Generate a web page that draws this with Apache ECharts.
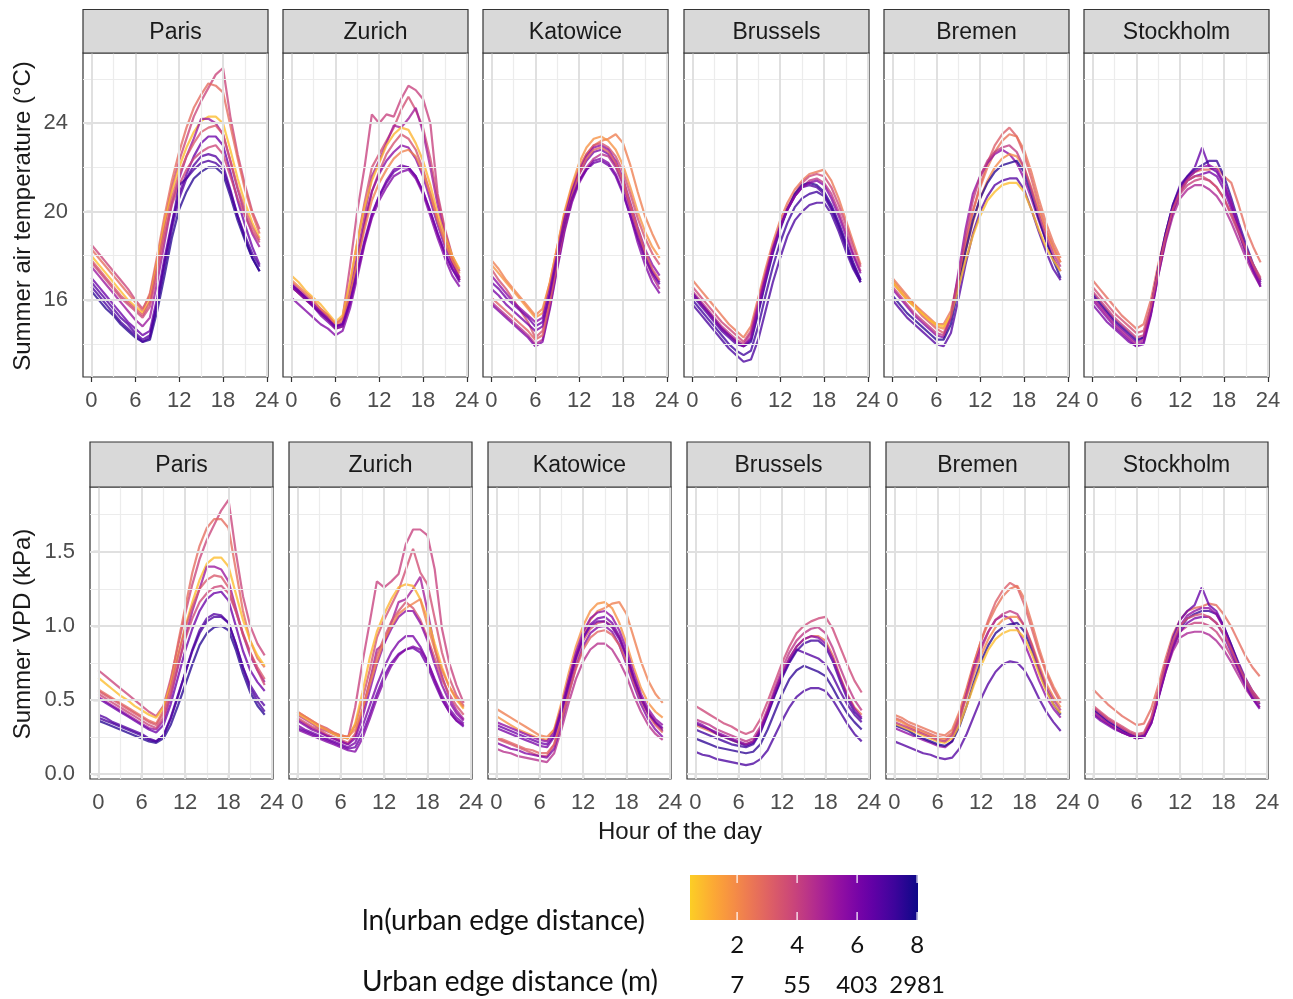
<!DOCTYPE html>
<html>
<head>
<meta charset="utf-8">
<script src="https://cdn.jsdelivr.net/npm/echarts@6/dist/echarts.min.js"></script>
<style>
  html, body { margin: 0; padding: 0; background: #fff; }
  #chart { width: 1293px; height: 999px; }
</style>
</head>
<body>
<div id="chart"></div>
<script>
// ---- data -------------------------------------------------------------
const hours = [0,1,2,3,4,5,6,7,8,9,10,11,12,13,14,15,16,17,18,19,20,21,22,23];
const cities = ['Paris', 'Zurich', 'Katowice', 'Brussels', 'Bremen', 'Stockholm'];

const xTicks = [0, 6, 12, 18, 24];
const xMinor = [3, 9, 15, 21];
const tempTicks = [16, 20, 24];
const tempMinor = [14, 18, 22, 26];
const vpdTicks = [0, 0.5, 1, 1.5];
const vpdMinor = [0.25, 0.75, 1.25, 1.75];

// colour bar: ln(urban edge distance) breaks and matching distances in metres
const colourLimits = [0.43, 8.03];
const legendBreaks = [2, 4, 6, 8];
const legendMetres = ['7', '55', '403', '2981'];

// ln(urban edge distance) of each logger, per city
const parisLn = [3.9, 2.8, 0.8, 5.2, 3.3, 6.3, 3.8, 6.8, 7.6, 7.0];
const zurichLn = [4.0, 3.6, 5.0, 1.0, 3.5, 5.6, 2.2, 6.0, 6.3, 5.8];
const katowiceLn = [2.3, 1.8, 3.5, 5.5, 6.0, 4.5, 5.8, 3.0, 6.2];
const brusselsLn = [2.5, 3.8, 4.3, 7.5, 6.8, 7.2, 7.0, 5.6];
const bremenLn = [3.2, 2.6, 5.5, 2.0, 7.6, 6.8, 0.8, 4.2];
const stockholmLn = [2.8, 6.4, 7.3, 5.5, 4.0, 4.8, 6.0, 3.6];

// mean summer air temperature (°C) by hour
const parisTemp = [
  [18.5,18.1,17.7,17.3,16.9,16.5,16.0,15.6,16.2,17.8,19.5,21.1,22.3,23.3,24.3,25.0,25.6,26.2,26.5,24.3,22.6,21.2,20.0,19.2],
  [18.3,17.9,17.5,17.1,16.7,16.3,15.9,15.5,16.3,18.0,19.8,21.4,22.7,23.8,24.7,25.3,25.8,25.7,25.4,23.9,22.4,21.0,19.9,19.0],
  [18.0,17.6,17.2,16.8,16.4,16.0,15.7,15.4,16.0,17.7,19.5,20.9,22.0,22.9,23.6,24.1,24.3,24.3,24.0,22.8,21.5,20.4,19.5,18.8],
  [17.5,17.1,16.7,16.3,15.9,15.5,15.1,14.8,15.2,16.8,18.6,20.4,21.5,22.5,23.3,24.2,24.2,24.0,23.5,22.3,21.0,19.9,19.0,18.4],
  [17.8,17.4,17.0,16.6,16.2,15.9,15.6,15.3,15.9,17.5,19.2,20.6,21.7,22.5,23.1,23.6,23.8,23.9,23.5,22.3,21.1,20.1,19.3,18.7],
  [17.0,16.6,16.2,15.8,15.4,15.0,14.7,14.4,14.6,16.1,17.9,19.5,20.8,21.7,22.5,23.1,23.4,23.4,23.0,21.8,20.5,19.4,18.4,17.6],
  [17.7,17.3,16.9,16.5,16.1,15.8,15.5,15.2,15.7,17.2,18.9,20.3,21.2,21.9,22.4,22.7,22.9,23.0,22.6,21.6,20.6,19.8,19.1,18.6],
  [16.8,16.4,16.0,15.6,15.2,14.9,14.5,14.2,14.4,15.8,17.5,19.2,20.6,21.5,22.1,22.5,22.6,22.5,22.1,21.0,19.8,18.8,17.9,17.3],
  [16.4,16.0,15.6,15.3,14.9,14.6,14.3,14.1,14.2,15.5,17.1,18.8,20.1,20.9,21.5,21.8,22.0,22.0,21.7,20.7,19.6,18.7,17.9,17.3],
  [16.6,16.2,15.8,15.4,15.0,14.7,14.4,14.1,14.3,15.9,17.7,19.4,21.2,21.5,21.9,22.2,22.3,22.2,21.9,20.9,19.8,18.9,18.1,17.5]
];
const zurichTemp = [
  [16.8,16.5,16.2,15.9,15.6,15.3,14.9,15.2,17.5,20.0,22.0,24.4,24.0,24.4,24.3,25.1,25.7,25.5,25.1,24.0,20.8,19.2,18.0,17.3],
  [16.7,16.4,16.1,15.8,15.5,15.2,14.8,15.0,16.6,18.6,20.4,22.0,22.6,23.2,23.8,24.6,25.2,24.6,23.8,22.4,20.6,19.1,17.9,17.0],
  [16.6,16.3,16.0,15.7,15.4,15.1,14.8,14.9,16.2,18.0,19.8,21.6,22.3,23.1,23.9,23.8,24.2,24.7,23.6,22.0,20.3,18.9,17.8,16.9],
  [17.1,16.8,16.4,16.1,15.8,15.4,15.0,15.3,16.8,18.6,20.2,21.4,22.2,23.0,23.5,23.8,23.7,23.1,22.3,21.2,19.9,18.9,18.0,17.4],
  [16.6,16.3,16.0,15.7,15.4,15.1,14.7,14.8,16.0,17.8,19.5,20.9,21.8,22.6,23.1,23.5,23.3,22.8,21.9,20.8,19.6,18.6,17.7,16.9],
  [16.7,16.4,16.1,15.8,15.5,15.2,14.8,14.9,16.1,17.8,19.4,20.9,21.7,22.3,22.7,23.0,22.9,22.4,21.6,20.5,19.4,18.4,17.6,17.0],
  [16.9,16.6,16.3,16.0,15.6,15.3,14.9,15.1,16.2,17.7,19.2,20.5,21.3,21.9,22.4,22.7,22.8,22.5,21.8,20.8,19.6,18.6,17.8,17.2],
  [16.6,16.3,16.0,15.7,15.3,15.0,14.7,14.8,15.8,17.2,18.6,19.8,20.7,21.4,21.9,22.1,22.0,21.6,20.9,20.0,19.0,18.1,17.4,16.8],
  [16.7,16.4,16.1,15.7,15.4,15.1,14.8,14.9,15.9,17.3,18.7,19.9,20.7,21.3,21.8,22.0,22.0,21.6,20.9,20.0,19.0,18.1,17.4,16.9],
  [16.1,15.8,15.5,15.2,14.9,14.7,14.4,14.6,15.6,17.0,18.5,19.7,20.5,21.1,21.6,21.8,21.9,21.5,20.8,19.8,18.8,17.9,17.1,16.6]
];
const katowiceTemp = [
  [17.8,17.4,16.9,16.5,16.1,15.7,15.3,15.6,16.8,18.4,19.9,21.1,22.0,22.6,23.0,23.2,23.3,23.5,23.1,22.1,20.9,19.8,19.0,18.3],
  [17.6,17.2,16.8,16.4,16.0,15.6,15.2,15.4,16.8,18.4,20.0,21.2,22.2,22.9,23.3,23.4,23.2,22.8,22.1,21.1,20.0,19.1,18.4,17.9],
  [17.4,16.9,16.5,16.0,15.5,15.0,14.3,14.6,16.0,17.8,19.6,20.9,21.9,22.6,23.0,23.1,22.9,22.5,21.8,20.8,19.7,18.8,18.1,17.6],
  [17.1,16.7,16.3,15.9,15.6,15.3,15.0,15.2,16.5,18.1,19.7,20.9,21.8,22.5,22.9,23.0,22.8,22.3,21.5,20.4,19.3,18.3,17.6,17.1],
  [16.5,16.2,15.8,15.5,15.2,14.9,14.6,14.8,16.2,17.9,19.5,20.8,21.7,22.3,22.7,22.8,22.6,22.1,21.3,20.2,19.1,18.1,17.3,16.8],
  [15.9,15.6,15.3,15.0,14.7,14.4,14.0,14.2,15.7,17.5,19.2,20.5,21.4,22.0,22.4,22.6,22.5,22.0,21.2,20.1,18.9,17.9,17.1,16.5],
  [15.8,15.5,15.2,14.9,14.6,14.3,13.9,14.1,15.6,17.4,19.1,20.4,21.3,21.9,22.3,22.4,22.2,21.7,20.9,19.8,18.6,17.6,16.8,16.3],
  [16.1,15.8,15.5,15.2,14.9,14.6,14.2,14.4,15.9,17.7,19.4,20.7,21.7,22.4,22.8,22.9,22.7,22.2,21.4,20.3,19.2,18.2,17.4,16.9],
  [16.8,16.5,16.1,15.8,15.5,15.2,14.8,15.0,16.3,17.9,19.4,20.6,21.4,21.9,22.2,22.3,22.1,21.6,20.8,19.8,18.8,17.9,17.2,16.7]
];
const brusselsTemp = [
  [16.9,16.5,16.1,15.7,15.3,14.9,14.6,14.3,14.8,16.1,17.4,18.6,19.6,20.4,21.0,21.4,21.7,21.8,21.9,21.4,20.6,19.6,18.6,17.6],
  [16.6,16.2,15.8,15.4,15.0,14.7,14.4,14.1,14.6,15.9,17.2,18.4,19.4,20.2,20.8,21.3,21.6,21.7,21.6,21.1,20.3,19.4,18.4,17.5],
  [16.4,16.0,15.6,15.2,14.8,14.5,14.2,14.0,14.5,15.8,17.1,18.3,19.3,20.1,20.7,21.1,21.4,21.5,21.3,20.8,20.0,19.1,18.1,17.3],
  [16.3,15.9,15.5,15.1,14.7,14.4,14.1,13.9,14.1,15.4,16.8,18.1,19.2,20.1,20.8,21.2,21.3,21.2,20.9,20.3,19.5,18.6,17.7,16.9],
  [16.2,15.8,15.4,15.0,14.6,14.3,14.0,13.9,14.2,15.5,16.9,18.2,19.3,20.1,20.7,21.1,21.2,21.1,20.8,20.2,19.4,18.5,17.6,16.9],
  [16.0,15.6,15.2,14.8,14.4,14.0,13.7,13.5,13.7,14.8,16.2,17.5,18.6,19.5,20.2,20.6,20.8,20.9,20.7,20.1,19.3,18.4,17.5,16.8],
  [15.8,15.4,15.0,14.6,14.2,13.8,13.5,13.2,13.3,14.2,15.5,16.8,17.9,18.9,19.6,20.0,20.3,20.4,20.4,19.9,19.1,18.2,17.4,16.8],
  [16.3,15.9,15.5,15.1,14.7,14.4,14.1,13.9,14.3,15.7,17.0,18.3,19.3,20.1,20.7,21.1,21.3,21.4,21.2,20.6,19.8,18.9,18.0,17.2]
];
const bremenTemp = [
  [16.8,16.4,16.0,15.7,15.3,15.0,14.7,14.5,15.2,16.8,18.5,20.0,21.2,22.2,23.0,23.5,23.8,23.4,22.6,21.5,20.3,19.2,18.4,17.7],
  [17.0,16.6,16.2,15.8,15.5,15.2,14.9,14.9,15.5,17.0,18.6,20.0,21.1,22.0,22.7,23.2,23.5,23.4,22.8,21.8,20.6,19.5,18.6,17.9],
  [16.5,16.1,15.7,15.3,15.0,14.7,14.4,14.3,15.2,17.2,19.2,20.8,21.6,22.2,22.6,22.8,22.6,22.2,21.5,20.6,19.6,18.7,17.9,17.3],
  [16.9,16.5,16.1,15.8,15.4,15.1,14.8,14.7,15.3,16.7,18.2,19.5,20.6,21.4,22.0,22.4,22.6,22.5,22.0,21.1,20.1,19.1,18.3,17.7],
  [16.2,15.8,15.4,15.1,14.8,14.5,14.2,14.2,14.9,16.5,18.2,19.6,20.6,21.3,21.8,22.1,22.2,22.3,21.8,20.8,19.7,18.7,17.8,17.0],
  [16.0,15.6,15.2,14.9,14.6,14.3,14.0,13.9,14.5,16.0,17.6,19.0,20.0,20.7,21.2,21.4,21.5,21.5,21.0,20.1,19.1,18.2,17.4,16.9],
  [16.8,16.4,16.0,15.7,15.4,15.1,14.9,14.8,15.3,16.5,17.8,18.9,19.8,20.5,20.9,21.2,21.3,21.3,20.9,20.1,19.2,18.4,17.8,17.3],
  [16.6,16.2,15.8,15.4,15.1,14.8,14.5,14.4,15.2,17.0,18.9,20.5,21.6,22.3,22.7,22.9,23.0,22.7,22.0,21.0,19.9,18.9,18.1,17.5]
];
const stockholmTemp = [
  [16.9,16.5,16.1,15.7,15.3,15.0,14.7,14.9,16.0,17.6,19.0,20.2,21.0,21.5,21.8,21.9,21.9,22.0,21.6,21.3,20.3,19.2,18.4,17.7],
  [16.2,15.8,15.4,15.0,14.7,14.4,14.1,14.3,15.6,17.4,19.0,20.3,21.2,21.6,22.0,22.9,22.0,21.8,21.2,20.3,19.3,18.3,17.5,16.8],
  [16.3,15.9,15.5,15.1,14.8,14.5,14.2,14.3,15.6,17.4,19.0,20.3,21.1,21.6,21.9,22.1,22.3,22.3,21.6,20.6,19.5,18.5,17.6,16.9],
  [16.0,15.6,15.2,14.8,14.5,14.2,13.9,14.1,15.4,17.2,18.8,20.1,21.0,21.5,21.8,22.0,22.1,21.9,21.3,20.4,19.3,18.3,17.4,16.7],
  [16.4,16.0,15.6,15.2,14.9,14.6,14.3,14.4,15.6,17.3,18.8,20.0,20.8,21.2,21.4,21.5,21.4,21.1,20.6,19.8,19.0,18.2,17.5,16.9],
  [16.1,15.7,15.3,14.9,14.6,14.3,14.0,14.2,15.4,17.1,18.6,19.8,20.6,21.0,21.2,21.2,21.0,20.7,20.2,19.5,18.7,17.9,17.2,16.6],
  [15.8,15.4,15.0,14.7,14.4,14.1,13.9,14.0,15.3,17.1,18.7,20.0,20.9,21.4,21.6,21.7,21.8,21.6,21.0,20.1,19.1,18.1,17.3,16.6],
  [16.6,16.2,15.8,15.4,15.1,14.8,14.5,14.6,15.7,17.3,18.8,20.1,20.9,21.4,21.6,21.6,21.4,21.1,20.6,19.9,19.1,18.3,17.6,17.0]
];

// mean summer vapour pressure deficit (kPa) by hour
const parisVpd = [
  [0.70,0.66,0.62,0.58,0.54,0.50,0.46,0.42,0.39,0.46,0.64,0.86,1.08,1.28,1.45,1.58,1.68,1.78,1.85,1.50,1.20,1.00,0.88,0.80],
  [0.57,0.54,0.51,0.48,0.45,0.42,0.39,0.36,0.34,0.43,0.62,0.88,1.12,1.36,1.54,1.66,1.72,1.72,1.66,1.38,1.10,0.90,0.78,0.72],
  [0.65,0.61,0.57,0.53,0.50,0.46,0.43,0.40,0.38,0.45,0.60,0.80,0.99,1.16,1.31,1.42,1.46,1.46,1.40,1.22,1.04,0.90,0.80,0.73],
  [0.52,0.49,0.46,0.43,0.40,0.37,0.34,0.31,0.30,0.36,0.52,0.72,0.92,1.10,1.25,1.40,1.40,1.38,1.30,1.12,0.94,0.80,0.70,0.62],
  [0.56,0.53,0.50,0.47,0.44,0.41,0.38,0.35,0.33,0.41,0.58,0.79,0.98,1.13,1.25,1.31,1.34,1.33,1.26,1.10,0.94,0.82,0.72,0.64],
  [0.51,0.48,0.45,0.42,0.39,0.36,0.33,0.30,0.28,0.33,0.47,0.65,0.83,0.98,1.10,1.18,1.22,1.23,1.17,1.00,0.83,0.70,0.62,0.56],
  [0.54,0.51,0.48,0.45,0.42,0.39,0.36,0.33,0.31,0.38,0.54,0.73,0.91,1.05,1.16,1.22,1.26,1.27,1.22,1.10,0.95,0.82,0.70,0.60],
  [0.40,0.38,0.35,0.33,0.31,0.29,0.27,0.24,0.22,0.26,0.38,0.53,0.68,0.84,0.97,1.05,1.08,1.07,1.02,0.88,0.72,0.60,0.52,0.46],
  [0.36,0.34,0.32,0.30,0.28,0.26,0.24,0.22,0.21,0.24,0.33,0.46,0.60,0.74,0.87,0.95,0.99,1.00,0.97,0.84,0.68,0.55,0.46,0.40],
  [0.38,0.36,0.34,0.32,0.30,0.28,0.26,0.23,0.22,0.26,0.37,0.52,0.68,0.83,0.95,1.03,1.06,1.06,1.02,0.88,0.72,0.58,0.49,0.42]
];
const zurichVpd = [
  [0.40,0.37,0.34,0.31,0.29,0.27,0.25,0.24,0.45,0.75,1.02,1.30,1.26,1.30,1.35,1.55,1.65,1.65,1.61,1.38,0.98,0.75,0.60,0.48],
  [0.42,0.39,0.36,0.33,0.31,0.28,0.26,0.25,0.33,0.50,0.70,0.92,1.04,1.14,1.24,1.38,1.52,1.36,1.28,1.05,0.82,0.65,0.53,0.46],
  [0.37,0.34,0.31,0.29,0.26,0.24,0.22,0.20,0.26,0.42,0.62,0.84,0.88,1.02,1.16,1.18,1.25,1.33,1.10,0.85,0.66,0.52,0.43,0.37],
  [0.41,0.38,0.35,0.32,0.30,0.27,0.25,0.24,0.34,0.55,0.78,0.96,1.08,1.18,1.26,1.28,1.27,1.18,1.05,0.88,0.72,0.59,0.50,0.44],
  [0.38,0.35,0.32,0.30,0.27,0.25,0.23,0.21,0.27,0.43,0.62,0.80,0.92,1.03,1.10,1.16,1.12,1.04,0.92,0.78,0.64,0.54,0.46,0.40],
  [0.36,0.33,0.30,0.28,0.26,0.24,0.22,0.20,0.24,0.38,0.56,0.74,0.88,0.98,1.06,1.10,1.10,1.02,0.90,0.74,0.60,0.49,0.41,0.36],
  [0.42,0.39,0.36,0.33,0.30,0.28,0.26,0.25,0.30,0.44,0.60,0.76,0.90,1.00,1.08,1.12,1.15,1.18,1.00,0.84,0.70,0.59,0.51,0.45],
  [0.33,0.30,0.28,0.26,0.24,0.22,0.20,0.18,0.21,0.32,0.46,0.60,0.72,0.82,0.89,0.93,0.93,0.86,0.76,0.64,0.53,0.44,0.38,0.34],
  [0.31,0.29,0.27,0.25,0.23,0.21,0.19,0.17,0.18,0.27,0.40,0.54,0.66,0.75,0.81,0.84,0.85,0.82,0.73,0.61,0.50,0.42,0.36,0.32],
  [0.30,0.28,0.26,0.24,0.22,0.20,0.18,0.16,0.15,0.24,0.37,0.51,0.63,0.73,0.80,0.84,0.86,0.84,0.76,0.63,0.51,0.42,0.36,0.33]
];
const katowiceVpd = [
  [0.44,0.41,0.38,0.35,0.32,0.29,0.26,0.25,0.30,0.44,0.62,0.80,0.94,1.04,1.10,1.12,1.15,1.16,1.08,0.92,0.76,0.63,0.54,0.48],
  [0.39,0.36,0.33,0.30,0.28,0.26,0.24,0.23,0.30,0.48,0.68,0.86,1.00,1.10,1.15,1.16,1.12,1.02,0.88,0.72,0.58,0.48,0.42,0.38],
  [0.24,0.22,0.20,0.18,0.16,0.14,0.12,0.12,0.20,0.38,0.58,0.76,0.90,0.98,1.02,1.03,1.00,0.92,0.80,0.65,0.52,0.42,0.35,0.30],
  [0.35,0.33,0.31,0.29,0.27,0.25,0.23,0.22,0.28,0.45,0.64,0.82,0.96,1.05,1.09,1.10,1.06,0.97,0.84,0.68,0.54,0.44,0.37,0.33],
  [0.31,0.29,0.27,0.25,0.23,0.21,0.19,0.18,0.25,0.42,0.61,0.79,0.92,1.01,1.05,1.06,1.02,0.93,0.80,0.64,0.51,0.41,0.34,0.29],
  [0.17,0.15,0.14,0.12,0.11,0.10,0.09,0.08,0.14,0.30,0.48,0.64,0.76,0.84,0.88,0.88,0.84,0.76,0.66,0.53,0.42,0.33,0.27,0.23],
  [0.21,0.19,0.17,0.16,0.14,0.13,0.12,0.11,0.17,0.34,0.54,0.72,0.86,0.95,0.99,1.00,0.96,0.87,0.74,0.60,0.47,0.37,0.30,0.25],
  [0.25,0.23,0.21,0.19,0.17,0.16,0.14,0.14,0.20,0.36,0.54,0.71,0.84,0.92,0.96,0.97,0.94,0.87,0.76,0.62,0.50,0.40,0.33,0.28],
  [0.33,0.31,0.29,0.27,0.25,0.23,0.21,0.20,0.26,0.42,0.60,0.78,0.92,1.00,1.03,1.03,0.99,0.91,0.79,0.64,0.51,0.41,0.35,0.31]
];
const brusselsVpd = [
  [0.33,0.31,0.29,0.27,0.25,0.23,0.21,0.20,0.22,0.30,0.42,0.55,0.67,0.78,0.86,0.91,0.93,0.93,0.90,0.80,0.66,0.54,0.45,0.40],
  [0.46,0.43,0.40,0.37,0.34,0.32,0.29,0.27,0.29,0.37,0.49,0.62,0.75,0.86,0.95,1.00,1.03,1.05,1.06,0.98,0.86,0.74,0.63,0.55],
  [0.37,0.35,0.33,0.30,0.28,0.26,0.24,0.22,0.24,0.32,0.44,0.58,0.71,0.82,0.90,0.95,0.98,0.99,0.95,0.85,0.72,0.60,0.50,0.43],
  [0.24,0.22,0.20,0.18,0.17,0.16,0.15,0.14,0.15,0.20,0.30,0.42,0.54,0.64,0.70,0.73,0.71,0.69,0.66,0.58,0.49,0.41,0.35,0.30],
  [0.34,0.32,0.30,0.27,0.25,0.23,0.21,0.19,0.21,0.29,0.41,0.54,0.66,0.76,0.84,0.82,0.80,0.78,0.74,0.66,0.56,0.47,0.40,0.35],
  [0.30,0.28,0.26,0.24,0.22,0.20,0.19,0.18,0.20,0.28,0.40,0.53,0.65,0.75,0.83,0.88,0.90,0.90,0.86,0.76,0.63,0.51,0.42,0.37],
  [0.15,0.13,0.12,0.10,0.09,0.08,0.07,0.06,0.07,0.10,0.16,0.26,0.36,0.45,0.52,0.56,0.58,0.58,0.56,0.50,0.42,0.34,0.27,0.22],
  [0.35,0.33,0.30,0.28,0.26,0.24,0.22,0.20,0.22,0.30,0.42,0.56,0.68,0.78,0.86,0.91,0.93,0.92,0.88,0.78,0.65,0.53,0.44,0.38]
];
const bremenVpd = [
  [0.38,0.36,0.33,0.31,0.29,0.27,0.25,0.24,0.28,0.40,0.56,0.74,0.90,1.04,1.16,1.24,1.29,1.26,1.14,0.98,0.82,0.68,0.57,0.48],
  [0.40,0.38,0.35,0.33,0.31,0.29,0.27,0.26,0.30,0.42,0.58,0.75,0.90,1.02,1.12,1.20,1.25,1.27,1.18,1.02,0.85,0.70,0.59,0.50],
  [0.31,0.29,0.27,0.25,0.23,0.21,0.19,0.18,0.22,0.36,0.54,0.72,0.86,0.96,1.04,1.07,1.05,0.98,0.88,0.76,0.63,0.52,0.44,0.38],
  [0.37,0.35,0.32,0.30,0.28,0.26,0.24,0.23,0.27,0.37,0.52,0.67,0.80,0.91,0.99,1.04,1.06,1.06,1.00,0.88,0.74,0.61,0.52,0.45],
  [0.33,0.31,0.29,0.26,0.24,0.22,0.20,0.19,0.22,0.32,0.46,0.62,0.76,0.87,0.95,0.99,1.01,1.02,0.96,0.84,0.70,0.57,0.47,0.40],
  [0.22,0.20,0.18,0.16,0.14,0.13,0.11,0.10,0.11,0.17,0.27,0.39,0.51,0.61,0.69,0.74,0.76,0.75,0.70,0.61,0.51,0.42,0.35,0.29],
  [0.34,0.32,0.30,0.28,0.26,0.24,0.22,0.21,0.24,0.33,0.46,0.60,0.73,0.84,0.91,0.95,0.97,0.97,0.92,0.81,0.68,0.56,0.47,0.41],
  [0.35,0.33,0.31,0.29,0.27,0.25,0.23,0.22,0.26,0.38,0.54,0.70,0.84,0.96,1.04,1.08,1.10,1.08,1.00,0.87,0.72,0.59,0.50,0.43]
];
const stockholmVpd = [
  [0.57,0.52,0.47,0.43,0.39,0.36,0.33,0.34,0.44,0.60,0.78,0.94,1.04,1.10,1.12,1.13,1.15,1.14,1.08,1.00,0.90,0.80,0.72,0.66],
  [0.44,0.40,0.36,0.33,0.30,0.27,0.25,0.26,0.36,0.54,0.74,0.92,1.04,1.10,1.14,1.26,1.14,1.10,1.00,0.88,0.76,0.65,0.56,0.49],
  [0.43,0.39,0.35,0.32,0.29,0.27,0.25,0.26,0.35,0.52,0.70,0.86,0.98,1.05,1.08,1.10,1.10,1.08,1.00,0.88,0.75,0.63,0.54,0.47],
  [0.41,0.37,0.34,0.31,0.28,0.26,0.24,0.25,0.34,0.52,0.71,0.88,1.00,1.07,1.10,1.12,1.12,1.08,0.99,0.86,0.73,0.61,0.52,0.45],
  [0.45,0.41,0.37,0.34,0.31,0.28,0.26,0.27,0.37,0.54,0.72,0.86,0.96,1.00,1.02,1.02,1.00,0.96,0.89,0.80,0.70,0.61,0.54,0.48],
  [0.42,0.38,0.34,0.31,0.28,0.26,0.24,0.25,0.35,0.52,0.69,0.83,0.92,0.95,0.96,0.96,0.94,0.90,0.84,0.76,0.67,0.58,0.51,0.45],
  [0.40,0.36,0.33,0.30,0.28,0.26,0.24,0.25,0.34,0.51,0.69,0.85,0.96,1.02,1.05,1.06,1.06,1.02,0.94,0.83,0.71,0.60,0.51,0.44],
  [0.46,0.42,0.38,0.35,0.32,0.29,0.27,0.28,0.38,0.56,0.75,0.90,1.00,1.05,1.07,1.08,1.06,1.02,0.95,0.85,0.74,0.64,0.56,0.50]
];

const siteLn = [parisLn, zurichLn, katowiceLn, brusselsLn, bremenLn, stockholmLn];
const tempByCity = [parisTemp, zurichTemp, katowiceTemp, brusselsTemp, bremenTemp, stockholmTemp];
const vpdByCity = [parisVpd, zurichVpd, katowiceVpd, brusselsVpd, bremenVpd, stockholmVpd];

// ---- colour scale (plasma 0–0.9, reversed: near = gold, far = dark blue) ----
const plasmaStops = ['#0d0887','#41049d','#6a00a8','#8f0da4','#b12a90','#cc4778',
                     '#e16462','#f2844b','#fca636','#fcce25','#f0f921'];
const plasmaEnd = 0.9;
function hexToRgb(h) {
  return [parseInt(h.slice(1, 3), 16), parseInt(h.slice(3, 5), 16), parseInt(h.slice(5, 7), 16)];
}
function plasma(t) {
  t = Math.max(0, Math.min(1, t));
  const p = t * (plasmaStops.length - 1);
  const i = Math.min(Math.floor(p), plasmaStops.length - 2);
  const f = p - i;
  const a = hexToRgb(plasmaStops[i]), b = hexToRgb(plasmaStops[i + 1]);
  const c = a.map((v, k) => Math.round(v + (b[k] - v) * f));
  return 'rgb(' + c.join(',') + ')';
}
function scaleColour(t) {            // t = 0 near the edge, 1 far from it
  return plasma(plasmaEnd * (1 - t));
}
function lnColour(v) {
  return scaleColour((v - colourLimits[0]) / (colourLimits[1] - colourLimits[0]));
}

// ---- layout -------------------------------------------------------------
const axisFont = 'Liberation Sans, Arial, sans-serif';
const legendFont = 'Lato, "Open Sans", sans-serif';
const majorGrid = { color: '#E0E0E0', width: 2, type: 'solid' };
const minorGrid = { color: '#ECECEC', width: 1.2, type: 'solid' };

const rows = [
  { values: tempByCity, ticks: tempTicks, minor: tempMinor, yMin: 12.51, yMax: 27.18,
    top: 53, height: 324, left0: 83, step: 200.2, width: 185, stripTop: 9.5, stripH: 43.5,
    fmt: v => String(v) },
  { values: vpdByCity, ticks: vpdTicks, minor: vpdMinor, yMin: -0.034, yMax: 1.937,
    top: 487, height: 292, left0: 90, step: 199, width: 183, stripTop: 442, stripH: 45,
    fmt: v => v.toFixed(1) }
];

const grids = [], xAxes = [], yAxes = [], series = [], graphics = [];

rows.forEach((row, r) => {
  cities.forEach((city, c) => {
    const g = grids.length;
    const left = Math.round(row.left0 + row.step * c);
    grids.push({
      left: left, top: row.top, width: row.width, height: row.height,
      show: true, backgroundColor: '#fff', borderColor: '#333', borderWidth: 1.2
    });
    xAxes.push({
      type: 'value', gridIndex: g, min: -1.15, max: 24.15,
      splitLine: { show: false }, axisLine: { show: false },
      axisTick: { show: true, customValues: xTicks, length: 5, lineStyle: { color: '#333', width: 1.2 } },
      axisLabel: { show: true, customValues: xTicks, margin: 13, fontSize: 22, color: '#4D4D4D', fontFamily: axisFont }
    });
    yAxes.push({
      type: 'value', gridIndex: g, min: row.yMin, max: row.yMax,
      splitLine: { show: false }, axisLine: { show: false },
      axisTick: { show: c === 0, customValues: row.ticks, length: 5, lineStyle: { color: '#333', width: 1.2 } },
      axisLabel: { show: c === 0, customValues: row.ticks, formatter: row.fmt, margin: 15,
                   fontSize: 22, color: '#4D4D4D', fontFamily: axisFont }
    });

    // panel grid lines, drawn on the panel's own scales
    const gl = [];
    xMinor.forEach(v => gl.push({ xAxis: v, lineStyle: minorGrid }));
    row.minor.forEach(v => gl.push({ yAxis: v, lineStyle: minorGrid }));
    xTicks.forEach(v => gl.push({ xAxis: v, lineStyle: majorGrid }));
    row.ticks.forEach(v => gl.push({ yAxis: v, lineStyle: majorGrid }));
    series.push({
      type: 'line', xAxisIndex: g, yAxisIndex: g, data: [], silent: true, z: 1,
      markLine: { silent: true, symbol: ['none', 'none'], label: { show: false },
                  lineStyle: { type: 'solid' }, emphasis: { disabled: true }, data: gl }
    });

    // one line per logger
    row.values[c].forEach((vals, k) => {
      series.push({
        type: 'line', xAxisIndex: g, yAxisIndex: g, silent: true, z: 3,
        symbol: 'none', showSymbol: false,
        data: hours.map((h, i) => [h, vals[i]]),
        lineStyle: { width: 2.2, color: lnColour(siteLn[c][k]), opacity: 0.78 }
      });
    });

    // facet strip
    graphics.push({
      type: 'rect', z: 10,
      shape: { x: left, y: row.stripTop, width: row.width, height: row.stripH },
      style: { fill: '#D9D9D9', stroke: '#333', lineWidth: 1.2 }
    });
    graphics.push({
      type: 'text', z: 11, x: left + row.width / 2, y: row.stripTop + row.stripH / 2 + 1,
      style: { text: city, align: 'center', verticalAlign: 'middle', fontSize: 23,
               fontFamily: axisFont, fill: '#1A1A1A' }
    });
  });
});

// axis titles
graphics.push({
  type: 'text', x: 23, y: 216, rotation: Math.PI / 2,
  style: { text: 'Summer air temperature (°C)', align: 'center', verticalAlign: 'middle',
           fontSize: 24, fontFamily: axisFont, fill: '#1A1A1A' }
});
graphics.push({
  type: 'text', x: 23, y: 634, rotation: Math.PI / 2,
  style: { text: 'Summer VPD (kPa)', align: 'center', verticalAlign: 'middle',
           fontSize: 24, fontFamily: axisFont, fill: '#1A1A1A' }
});
graphics.push({
  type: 'text', x: 680, y: 832,
  style: { text: 'Hour of the day', align: 'center', verticalAlign: 'middle',
           fontSize: 24, fontFamily: axisFont, fill: '#1A1A1A' }
});

// colour bar legend
const barX = 690, barY = 875, barW = 228, barH = 45;
const barPos = v => barX + (v - colourLimits[0]) / (colourLimits[1] - colourLimits[0]) * barW;
const barStops = [];
for (let k = 0; k <= 20; k++) barStops.push({ offset: k / 20, color: scaleColour(k / 20) });
graphics.push({
  type: 'rect', shape: { x: barX, y: barY, width: barW, height: barH },
  style: { fill: new echarts.graphic.LinearGradient(0, 0, 1, 0, barStops) }
});
legendBreaks.forEach((b, i) => {
  const x = barPos(b);
  graphics.push({ type: 'line', shape: { x1: x, y1: barY, x2: x, y2: barY + 8 },
                  style: { stroke: '#fff', lineWidth: 1.2 } });
  graphics.push({ type: 'line', shape: { x1: x, y1: barY + barH - 8, x2: x, y2: barY + barH },
                  style: { stroke: '#fff', lineWidth: 1.2 } });
  graphics.push({ type: 'text', x: x, y: 945,
                  style: { text: String(b), align: 'center', verticalAlign: 'middle',
                           fontSize: 24, fontFamily: legendFont, fill: '#111' } });
  graphics.push({ type: 'text', x: x, y: 985,
                  style: { text: legendMetres[i], align: 'center', verticalAlign: 'middle',
                           fontSize: 24, fontFamily: legendFont, fill: '#111' } });
});
graphics.push({
  type: 'text', x: 362, y: 921,
  style: { text: 'ln(urban edge distance)', align: 'left', verticalAlign: 'middle',
           fontSize: 28, fontFamily: legendFont, fill: '#111' }
});
graphics.push({
  type: 'text', x: 362, y: 982,
  style: { text: 'Urban edge distance (m)', align: 'left', verticalAlign: 'middle',
           fontSize: 28, fontFamily: legendFont, fill: '#111' }
});

const chart = echarts.init(document.getElementById('chart'), null, { renderer: 'canvas' });
chart.setOption({
  animation: false,
  backgroundColor: '#fff',
  grid: grids,
  xAxis: xAxes,
  yAxis: yAxes,
  series: series,
  graphic: { elements: graphics }
});
</script>
</body>
</html>
